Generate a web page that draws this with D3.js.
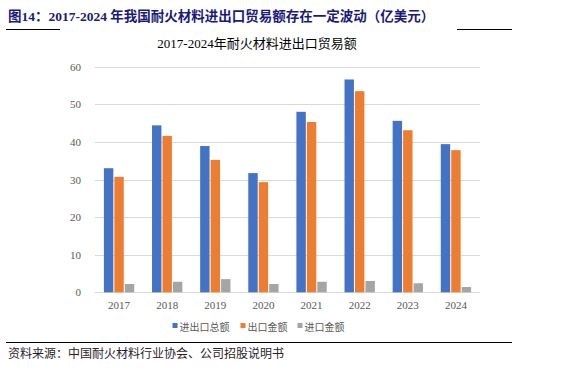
<!DOCTYPE html>
<html>
<head>
<meta charset="utf-8">
<script src="https://cdn.jsdelivr.net/npm/d3@7"></script>
<style>
  body { margin: 0; background: #fff; }
  svg text { font-family: "Liberation Serif", "Noto Sans CJK SC", serif; }
</style>
</head>
<body>
<svg width="564" height="369"></svg>
<script>
// data (亿美元)
var years = ['2017', '2018', '2019', '2020', '2021', '2022', '2023', '2024']
var seriesNames = ['进出口总额', '出口金额', '进口金额']
var totalTrade = [33.0, 44.4, 38.9, 31.7, 48.0, 56.6, 45.6, 39.4]
var exportValue = [30.7, 41.6, 35.2, 29.3, 45.3, 53.5, 43.1, 37.8]
var importValue = [2.2, 2.8, 3.5, 2.2, 2.8, 3.0, 2.4, 1.4]
var yTicks = [0, 10, 20, 30, 40, 50, 60]

var colors = ['#4472C4', '#ED7D31', '#A5A5A5']
var allSeries = [totalTrade, exportValue, importValue]

var svg = d3.select('svg')

// header
svg.append('text')
    .attr('x', 8).attr('y', 21)
    .style('font-size', '13.5px').style('font-weight', 'bold')
    .style('fill', '#1A1A7A')
    .text('图14：2017-2024 年我国耐火材料进出口贸易额存在一定波动（亿美元）')
svg.append('line').attr('x1', 6).attr('x2', 60).attr('y1', 29.5).attr('y2', 29.5)
    .attr('stroke', '#000').attr('stroke-width', 1)
svg.append('line').attr('x1', 457).attr('x2', 512).attr('y1', 29.5).attr('y2', 29.5)
    .attr('stroke', '#000').attr('stroke-width', 1)

// chart title
svg.append('text')
    .attr('x', 257).attr('y', 48)
    .attr('text-anchor', 'middle')
    .style('font-size', '13px').style('fill', '#000')
    .text('2017-2024年耐火材料进出口贸易额')

var margin = {left: 95, right: 480, top: 66.7, bottom: 292.3}

var x = d3.scaleBand()
    .domain(years)
    .range([margin.left, margin.right])
    .paddingInner(0.37)
    .paddingOuter(0.185)

var inner = d3.scaleBand()
    .domain(d3.range(3))
    .range([0, x.bandwidth()])
    .paddingInner(0.1)

var y = d3.scaleLinear()
    .domain([0, 60])
    .range([margin.bottom, margin.top])

// gridlines
svg.append('g').selectAll('line')
    .data(yTicks)
    .enter().append('line')
    .attr('x1', margin.left).attr('x2', margin.right)
    .attr('y1', d => Math.round(y(d)) + 0.5).attr('y2', d => Math.round(y(d)) + 0.5)
    .attr('stroke', '#D9D9D9').attr('stroke-width', 1)

// y labels
svg.append('g').selectAll('text')
    .data(yTicks)
    .enter().append('text')
    .attr('x', 81).attr('y', d => y(d) + 4)
    .attr('text-anchor', 'end')
    .style('font-size', '11px').style('fill', '#595959')
    .text(d => d)

// bars
allSeries.forEach((vals, i) => {
    svg.append('g').selectAll('rect')
        .data(vals)
        .enter().append('rect')
        .attr('x', (d, j) => x(years[j]) + inner(i))
        .attr('width', inner.bandwidth())
        .attr('y', d => y(d))
        .attr('height', d => y(0) - y(d))
        .attr('fill', colors[i])
})

// x labels
svg.append('g').selectAll('text')
    .data(years)
    .enter().append('text')
    .attr('x', d => x(d) + x.bandwidth() / 2)
    .attr('y', 309)
    .attr('text-anchor', 'middle')
    .style('font-size', '11px').style('fill', '#595959')
    .text(d => d)

// legend
var legendX = [172.5, 240.5, 297.5]
seriesNames.forEach((name, i) => {
    svg.append('rect')
        .attr('x', legendX[i]).attr('y', 323)
        .attr('width', 5).attr('height', 5)
        .attr('fill', colors[i])
    svg.append('text')
        .attr('x', legendX[i] + 7).attr('y', 331)
        .style('font-size', '10px').style('fill', '#595959')
        .style('font-family', '"Noto Sans CJK SC", sans-serif')
        .text(name)
})

// footer
svg.append('line').attr('x1', 6).attr('x2', 512).attr('y1', 342.5).attr('y2', 342.5)
    .attr('stroke', '#000').attr('stroke-width', 1)
svg.append('text')
    .attr('x', 8).attr('y', 357.5)
    .style('font-size', '12px').style('fill', '#2B1B2B')
    .style('font-family', '"Noto Sans CJK SC", sans-serif')
    .text('资料来源：中国耐火材料行业协会、公司招股说明书')
</script>
</body>
</html>
